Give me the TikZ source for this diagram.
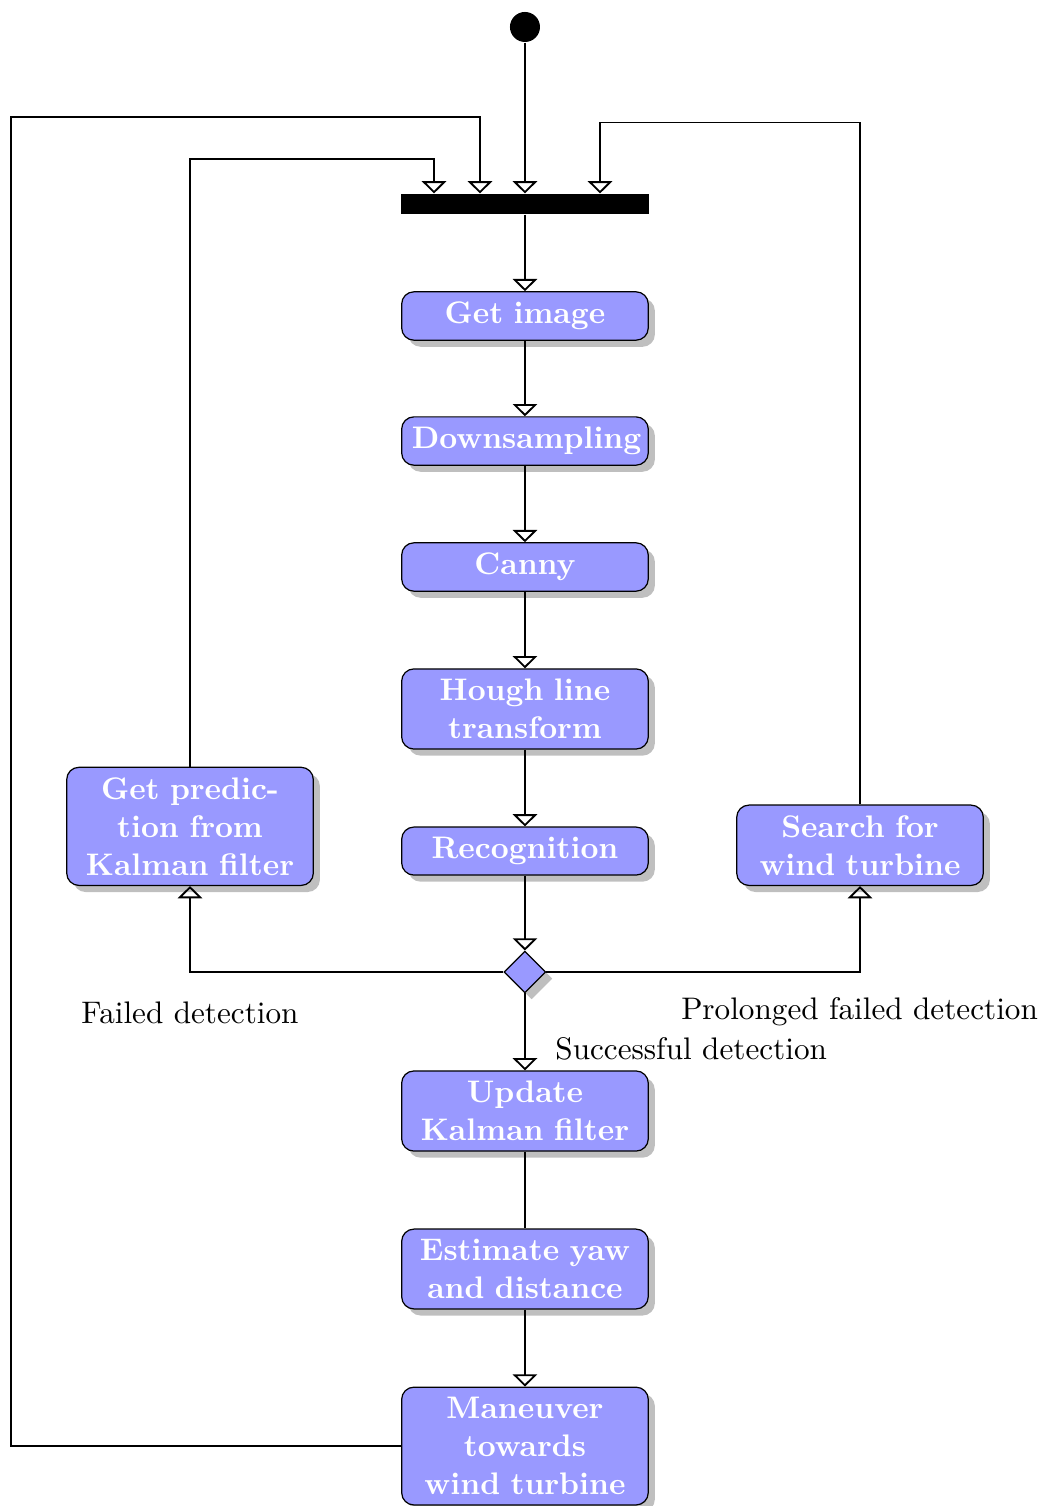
\documentclass[tikz,border=0pt]{standalone}
\usetikzlibrary{arrows.meta,shapes.geometric,shadows}
\begin{document}
\begin{tikzpicture}[
    font=\fontsize{10.2}{12.4}\selectfont,
    >={Triangle[open,width=8pt,length=4pt]},
    flow/.style={semithick},
    stage/.style={rectangle, rounded corners, draw, fill=blue!40, drop shadow,
      text width=2.6cm, align=center, text=white,
      font=\fontsize{10.2}{12.4}\selectfont\bfseries},
  ]
  \useasboundingbox (0,0) rectangle (11.99,-17.31);

  \node [circle, fill=black, inner sep=0pt, minimum size=0.345cm] (start) at (6.034,-0.31) {};
  \node [rectangle, fill=black, inner sep=0pt, minimum width=2.85cm, minimum height=0.23cm] (bar) at (6.034,-2.345) {};
  \coordinate (in1) at ([xshift=-1.045cm]bar.north);
  \coordinate (in2) at ([xshift=-0.517cm]bar.north);
  \coordinate (in4) at ([xshift=0.863cm]bar.north);

  \node [stage] (image) at (6.034,-3.632) {Get image};
  \node [stage] (down) at (6.034,-5.069) {Downsampling};
  \node [stage] (canny) at (6.034,-6.517) {Canny};
  \node [stage] (hough) at (6.034,-8.149) {Hough line\\transform};
  \node [stage] (recog) at (6.034,-9.782) {Recognition};
  \node [diamond, draw, fill=blue!40, drop shadow, inner sep=0pt, minimum size=0.48cm] (branch) at (6.034,-11.172) {};
  \node [stage] (update) at (6.034,-12.77) {Update\\Kalman filter};
  \node [stage] (estimate) at (6.034,-14.586) {Estimate yaw\\and distance};
  \node [stage] (maneuver) at (6.034,-16.621) {Maneuver\\towards\\wind turbine};
  \node [stage, anchor=south] (predict) at (2.184,-10.184) {Get predic-\\tion from\\Kalman filter};
  \node [stage, anchor=south] (search) at (9.885,-10.184) {Search for\\wind turbine};

  \node (failed) at (2.184,-11.64) {Failed detection};
  \node (prolonged) at (9.88,-11.63) {Prolonged failed detection};
  \node [anchor=west] (success) at (6.26,-12.05) {Successful detection};

  \draw [flow, ->] (start.south) -- (bar.north);
  \draw [flow, ->] (bar.south) -- (image.north);
  \draw [flow, ->] (image) -- (down);
  \draw [flow, ->] (down) -- (canny);
  \draw [flow, ->] (canny) -- (hough);
  \draw [flow, ->] (hough) -- (recog);
  \draw [flow, ->] (recog) -- (branch);
  \draw [flow, ->] (branch.west) -| (predict.south);
  \draw [flow, ->] (branch.east) -| (search.south);
  \draw [flow, ->] (branch.south) -- (update.north);
  \draw [flow] (update) -- (estimate);
  \draw [flow, ->] (estimate) -- (maneuver);

  \draw [flow, ->] (predict.north) |- ([yshift=0.391cm]in1) -- (in1);
  \draw [flow, ->] (search.north) |- ([yshift=0.816cm]in4) -- (in4);
  \draw [flow, ->] (maneuver.west) -- ++(-4.483,0) |- ([yshift=0.874cm]in2) -- (in2);
\end{tikzpicture}
\end{document}
